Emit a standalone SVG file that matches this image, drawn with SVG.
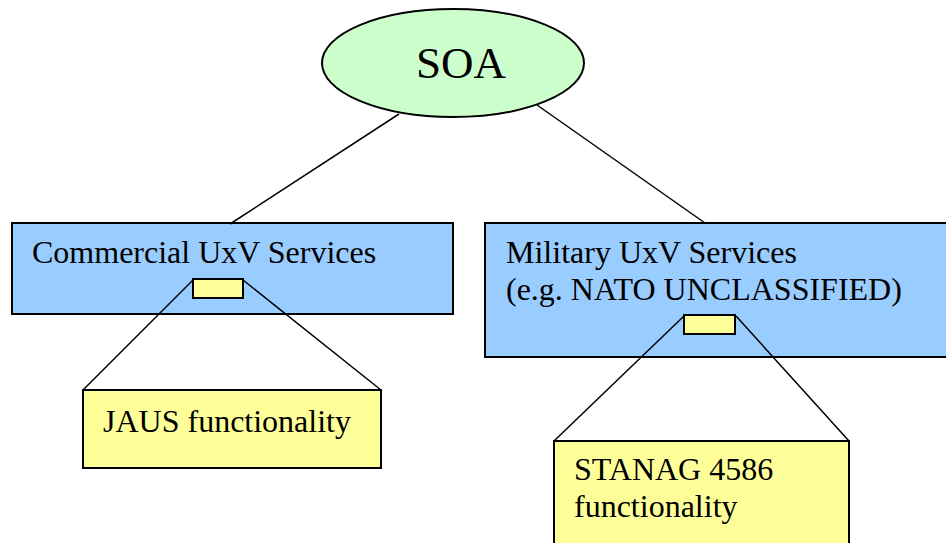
<svg xmlns="http://www.w3.org/2000/svg" width="946" height="543" viewBox="0 0 946 543">
<style>
.ln{stroke:#000;stroke-width:1.5;fill:none}
.blue{fill:#99CCFF;stroke:#000;stroke-width:2}
.yel{fill:#FFFF99;stroke:#000;stroke-width:2}
.t{font-family:"Liberation Serif","Times New Roman",serif;font-size:32px;fill:#000}
</style>
<rect width="946" height="543" fill="#fff"/>
<g id="soa">
<ellipse cx="453" cy="63" rx="131" ry="54" fill="#CCFFCC" stroke="#000" stroke-width="2"/>
<text x="461" y="78" text-anchor="middle" class="t" style="font-size:45px">SOA</text>
</g>
<g id="commercial">
<rect class="blue" x="12" y="223" width="441" height="91"/>
<text class="t" x="32" y="263">Commercial UxV Services</text>
</g>
<g id="military">
<rect class="blue" x="485" y="223" width="470" height="134"/>
<text class="t" x="506" y="263">Military UxV Services</text>
<text class="t" x="506" y="300">(e.g. NATO UNCLASSIFIED)</text>
</g>
<g id="jaus">
<rect class="yel" x="83" y="390" width="298" height="78"/>
<text class="t" x="103" y="432">JAUS functionality</text>
</g>
<g id="stanag">
<rect class="yel" x="554" y="441" width="295" height="110"/>
<text class="t" x="574" y="480">STANAG 4586</text>
<text class="t" x="574" y="517">functionality</text>
</g>
<g id="connectors">
<line class="ln" x1="399" y1="114" x2="230" y2="224"/>
<line class="ln" x1="537" y1="105" x2="705" y2="223"/>
<line class="ln" x1="193" y1="280" x2="83" y2="390"/>
<line class="ln" x1="243" y1="280" x2="381" y2="390"/>
<line class="ln" x1="684" y1="316" x2="554" y2="441"/>
<line class="ln" x1="736" y1="316" x2="849" y2="441"/>
</g>
<g id="commercial-port">
<rect class="yel" x="193" y="279" width="50" height="19"/>
</g>
<g id="military-port">
<rect class="yel" x="684" y="315" width="51" height="19"/>
</g>
</svg>
